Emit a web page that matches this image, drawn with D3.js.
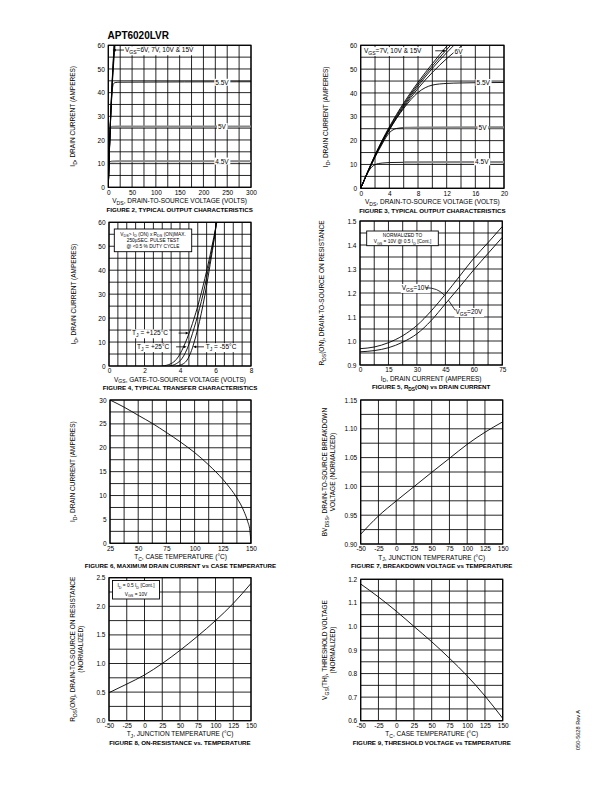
<!DOCTYPE html>
<html><head><meta charset="utf-8">
<script src="https://cdn.jsdelivr.net/npm/d3@7"></script>
<style>body{margin:0;background:#fff}svg{display:block}</style>
</head><body><svg id="c" width="612" height="792"></svg>
<script>
// ---------- DATA ----------
// Figures 2 & 3: output characteristics (VDS volts, ID amps)
const vds15 = [0,1,2,3,4,5,6,7,8,9,10,11,12,13];
const id15  = [0,7.2,14,20.2,25.8,31,35.8,40.3,44.5,48.5,52.3,56,59.6,63];
const vds10 = [0,1,2,3,4,5,6,7,8,9,10,11,12,13];
const id10  = [0,7.1,13.8,19.9,25.4,30.5,35.2,39.6,43.7,47.6,51.3,54.8,58.2,61.5];
const vds7  = [0,1,2,3,4,5,6,7,8,9,10,11,12,13,14];
const id7   = [0,7,13.6,19.6,25,30,34.6,38.9,42.9,46.7,50.3,53.7,56.9,60,63];
const vds6  = [0,1,2,3,4,5,6,7,8,9,10,11,12,13,14,15];
const id6   = [0,6.9,13.4,19.3,24.6,29.5,34,38.1,41.9,45.4,48.6,51.6,54.4,57,59.5,61.9];
const vds55 = [0,1,2,3,4,5,6,7,8,9,10,12,14,16,20,300];
const id55  = [0,6.8,13.3,19.2,24.5,29.3,33.5,37.2,40.2,42.2,43.3,44,44.2,44.3,44.4,44.6];
const vds5  = [0,1,2,3,3.5,4,4.5,5,6,8,20,300];
const id5   = [0,6.7,13,18.6,21.2,23.3,24.5,25.1,25.4,25.5,25.6,25.7];
const vds45 = [0,0.5,1,1.5,2,2.5,3,4,6,20,300];
const id45  = [0,3.5,6.6,8.8,9.9,10.4,10.6,10.8,10.9,11,11];
const outLabels = ["V{GS}=6V, 7V, 10V & 15V","V{GS}=7V, 10V & 15V","6V","5.5V","5V","4.5V"];

// Figure 4: transfer characteristics (VGS volts, ID amps)
const vgsT125 = [3.0,3.5,3.8,4.0,4.2,4.4,4.6,4.8,5.0,5.2,5.4,5.6,5.8,6.0,6.07];
const idT125  = [0,1,2.8,5,8,11.5,15.5,20,25,30.5,36.5,43,50,57.5,60.5];
const vgsT25  = [3.4,3.8,4.1,4.3,4.5,4.7,4.9,5.1,5.3,5.5,5.7,5.9,6.05,6.08];
const idT25   = [0,1,3,5.5,9,13.5,18.5,24,30,37,44.5,52.5,59,60.5];
const vgsTm55 = [3.8,4.2,4.4,4.6,4.8,5.0,5.2,5.4,5.6,5.8,6.0,6.05];
const idTm55  = [0,1,2.5,5.5,10,15.5,22,29.5,38,47,57,60.5];
const tjLabels = ["T{J} = +125°C","T{J} = +25°C","T{J} = -55°C"];

// Figure 5: RDS(ON) vs drain current
const idR = [0,7.5,15,22.5,30,37.5,45,52.5,60,67.5,75];
const rVgs10 = [0.968,0.975,0.993,1.022,1.065,1.125,1.195,1.27,1.345,1.41,1.477];
const rVgs20 = [0.955,0.96,0.972,0.995,1.03,1.085,1.155,1.225,1.297,1.365,1.432];

// Figure 6: max drain current vs case temperature
const tc6 = [25,37.5,50,62.5,75,87.5,100,112.5,125,131.25,137.5,143.75,147,149,150];
const id6max = [30,28.5,26.8,25.1,23.2,21.2,19.0,16.4,13.4,11.6,9.5,6.7,4.6,2.7,0];

// Figure 7: breakdown voltage vs temperature
const tj7 = [-50,-25,0,25,50,75,100,125,150];
const bv7 = [0.917,0.9486,0.9747,0.9995,1.0244,1.0487,1.073,1.094,1.112];

// Figure 8: on-resistance vs temperature
const tj8 = [-50,-25,0,25,50,75,100,125,150];
const r8  = [0.49,0.64,0.80,1.0,1.23,1.48,1.75,2.05,2.40];

// Figure 9: threshold voltage vs temperature
const tc9 = [-50,-25,0,25,50,75,100,125,150];
const vth9 = [1.18,1.125,1.065,1.0,0.935,0.865,0.79,0.705,0.61];

// Tick labels
const ticks2x = [0,50,100,150,200,250,300], ticks2y = [0,10,20,30,40,50,60];
const ticks3x = [0,4,8,12,16,20];
const ticks4x = [0,2,4,6,8];
const ticks5x = [0,15,30,45,60,75], ticks5y = [0.9,1.0,1.1,1.2,1.3,1.4,1.5];
const ticks6x = [25,50,75,100,125,150], ticks6y = [0,5,10,15,20,25,30];
const ticksTx = [-50,-25,0,25,50,75,100,125,150];
const ticks7y = [0.90,0.95,1.00,1.05,1.10,1.15];
const ticks8y = [0,0.5,1.0,1.5,2.0,2.5];
const ticks9y = [0.6,0.7,0.8,0.9,1.0,1.1,1.2];

// ---------- DRAWING ----------
const FONT = '"Liberation Sans", Arial, Helvetica, sans-serif';
const svg = d3.select('#c');
svg.append('rect').attr('width',612).attr('height',792).attr('fill','#fff');

function rich(t, str, fs) {
  const parts = str.split(/(\{[^}]*\})/).filter(s => s.length);
  let shifted = false;
  parts.forEach(p => {
    if (p[0] === '{') {
      t.append('tspan').attr('font-size', fs * 0.78).attr('dy', fs * 0.3).text(p.slice(1, -1));
      shifted = true;
    } else {
      const s = t.append('tspan').text(p);
      if (shifted) { s.attr('dy', -fs * 0.3); shifted = false; }
    }
  });
  return t;
}
function txt(g, x, y, str, fs, opts = {}) {
  const t = g.append('text').attr('x', x).attr('y', y)
    .attr('font-family', FONT).attr('font-size', fs).attr('fill', '#000')
    .attr('text-anchor', opts.anchor || 'start')
    .attr('font-weight', opts.bold ? 'bold' : null);
  if (opts.rotate) t.attr('transform', `rotate(-90,${x},${y})`);
  rich(t, str, fs);
  if (opts.bg) {
    const b = t.node().getBBox();
    g.insert('rect', () => t.node()).attr('x', b.x - 1).attr('y', b.y)
      .attr('width', b.width + 2).attr('height', b.height).attr('fill', '#fff');
  }
  return t;
}
function arrow(g, x1, y1, x2, y2) {
  const a = Math.atan2(y2 - y1, x2 - x1), L = 3.2, W = 1.4;
  g.append('line').attr('x1', x1).attr('y1', y1).attr('x2', x2 - Math.cos(a) * 2).attr('y2', y2 - Math.sin(a) * 2)
    .attr('stroke', '#000').attr('stroke-width', 0.8);
  const bx = x2 - Math.cos(a) * L, by = y2 - Math.sin(a) * L;
  g.append('path').attr('d', `M${x2},${y2}L${bx - Math.sin(a) * W},${by + Math.cos(a) * W}L${bx + Math.sin(a) * W},${by - Math.cos(a) * W}Z`)
    .attr('fill', '#000');
}
function noteBox(g, x0, y0, x1, y1, lines, centers) {
  g.append('rect').attr('x', x0).attr('y', y0).attr('width', x1 - x0).attr('height', y1 - y0)
    .attr('fill', '#fff').attr('stroke', '#000').attr('stroke-width', 0.9);
  lines.forEach((s, i) => txt(g, (x0 + x1) / 2, centers[i] + 1.7, s, 4.8, {anchor: 'middle'}));
}

const plain = d => String(d);
let clipN = 0;
function panel(o) {
  const [X0, X1, Y0, Y1] = o.box;
  const g = svg.append('g');
  const x = d3.scaleLinear().domain(o.xd).range([X0, X1]);
  const y = d3.scaleLinear().domain(o.yd).range([Y1, Y0]);
  const gx = d3.range(o.nx + 1).map(i => o.xd[0] + i * (o.xd[1] - o.xd[0]) / o.nx);
  const gy = d3.range(o.ny + 1).map(i => o.yd[0] + i * (o.yd[1] - o.yd[0]) / o.ny);
  g.append('g').selectAll('line').data(gx).join('line')
    .attr('x1', d => x(d)).attr('x2', d => x(d)).attr('y1', Y0).attr('y2', Y1)
    .attr('stroke', '#000').attr('stroke-width', 0.85);
  g.append('g').selectAll('line').data(gy).join('line')
    .attr('y1', d => y(d)).attr('y2', d => y(d)).attr('x1', X0).attr('x2', X1)
    .attr('stroke', '#000').attr('stroke-width', 0.85);
  g.append('rect').attr('x', X0).attr('y', Y0).attr('width', X1 - X0).attr('height', Y1 - Y0)
    .attr('fill', 'none').attr('stroke', '#000').attr('stroke-width', 1.2);

  const ax = g.append('g').attr('transform', `translate(0,${Y1})`)
    .call(d3.axisBottom(x).tickValues(o.xt).tickSize(0).tickPadding(2.6).tickFormat(o.xf || plain));
  ax.select('.domain').remove();
  ax.selectAll('text').attr('font-size', 6.5).attr('font-family', FONT).attr('fill', '#000');
  const ay = g.append('g').attr('transform', `translate(${X0},0)`)
    .call(d3.axisLeft(y).tickValues(o.yt).tickSize(0).tickPadding(3.5).tickFormat(o.yf || plain));
  ay.select('.domain').remove();
  ay.selectAll('text').attr('font-size', 6.5).attr('font-family', FONT).attr('fill', '#000');

  const cx = (X0 + X1) / 2, cy = (Y0 + Y1) / 2;
  txt(g, cx, Y1 + 15.5, o.xtitle, 6.5, {anchor: 'middle'});
  txt(g, cx, Y1 + 24.2, o.caption, 6.2, {anchor: 'middle', bold: true});
  o.ytitle.forEach((s, i) => txt(g, X0 + o.yoff[i], cy, s, 6.5, {anchor: 'middle', rotate: true}));

  const id = 'clip' + (clipN++);
  svg.append('clipPath').attr('id', id).append('rect')
    .attr('x', X0).attr('y', Y0).attr('width', X1 - X0).attr('height', Y1 - Y0);
  const plot = g.append('g').attr('clip-path', `url(#${id})`);
  const line = d3.line().x(d => x(d[0])).y(d => y(d[1])).curve(d3.curveMonotoneX);
  const curve = (xs, ys, stroke = '#000', w = 0.9) =>
    plot.append('path').datum(d3.zip(xs, ys)).attr('d', line)
      .attr('fill', 'none').attr('stroke', stroke).attr('stroke-width', w);
  return {g, x, y, plot, curve};
}
const f1 = d3.format('.1f'), f2 = d3.format('.2f');

// Page title
txt(svg, 107.5, 39, 'APT6020LVR', 10, {bold: true});

// ---- Figure 2 ----
const p2 = panel({box: [108.3, 251, 45.3, 187.3], xd: [0, 300], yd: [0, 60], nx: 12, ny: 12,
  xt: ticks2x, yt: ticks2y, xtitle: 'V{DS}, DRAIN-TO-SOURCE VOLTAGE (VOLTS)',
  caption: 'FIGURE 2, TYPICAL OUTPUT CHARACTERISTICS', ytitle: ['I{D}, DRAIN CURRENT (AMPERES)'], yoff: [-33]});
// ---- Figure 3 ----
const p3 = panel({box: [360.7, 504, 45.3, 188.3], xd: [0, 20], yd: [0, 60], nx: 10, ny: 12,
  xt: ticks3x, yt: ticks2y, xtitle: 'V{DS}, DRAIN-TO-SOURCE VOLTAGE (VOLTS)',
  caption: 'FIGURE 3, TYPICAL OUTPUT CHARACTERISTICS', ytitle: ['I{D}, DRAIN CURRENT (AMPERES)'], yoff: [-33]});

[p2, p3].forEach(p => {
  p.curve(vds15, id15); p.curve(vds10, id10); p.curve(vds7, id7); p.curve(vds6, id6);
  p.curve(vds55, id55);
  p.curve(vds5, id5); p.curve(vds45, id45);
  const gi5 = vds5.findIndex(v => v >= 6), gi45 = vds45.findIndex(v => v >= 6);
  p.curve(vds5.slice(gi5), id5.slice(gi5), '#8a8a8a', 2.2);
  p.curve(vds45.slice(gi45), id45.slice(gi45), '#8a8a8a', 2.2);
});
// fig 2 labels
txt(p2.g, p2.x(239), p2.y(44.3) + 2.3, outLabels[3], 6.5, {anchor: 'middle', bg: true});
txt(p2.g, p2.x(239), p2.y(25.6) + 2.3, outLabels[4], 6.5, {anchor: 'middle', bg: true});
txt(p2.g, p2.x(239), p2.y(11) + 2.3, outLabels[5], 6.5, {anchor: 'middle', bg: true});
txt(p2.g, p2.x(35), p2.y(58) + 2.3, outLabels[0], 6.5, {bg: true});
arrow(p2.g, p2.x(33), p2.y(58), p2.x(9), p2.y(58));
// fig 3 labels
txt(p3.g, p3.x(17.1), p3.y(44.3) + 2.3, outLabels[3], 6.5, {anchor: 'middle', bg: true});
txt(p3.g, p3.x(17.0), p3.y(25.6) + 2.3, outLabels[4], 6.5, {anchor: 'middle', bg: true});
txt(p3.g, p3.x(16.9), p3.y(11) + 2.3, outLabels[5], 6.5, {anchor: 'middle', bg: true});
txt(p3.g, p3.x(0.45), p3.y(57.7) + 2.3, outLabels[1], 6.5, {bg: true});
arrow(p3.g, p3.x(10.4), p3.y(57.7), p3.x(11.9), p3.y(57.7));
txt(p3.g, p3.x(13.1), p3.y(57.4) + 2.3, outLabels[2], 6.5, {bg: true});

// ---- Figure 4 ----
const p4 = panel({box: [109, 251, 222.3, 366], xd: [0, 8], yd: [0, 60], nx: 16, ny: 12,
  xt: ticks4x, yt: ticks2y, xtitle: 'V{GS}, GATE-TO-SOURCE VOLTAGE (VOLTS)',
  caption: 'FIGURE 4, TYPICAL TRANSFER CHARACTERISTICS', ytitle: ['I{D}, DRAIN CURRENT (AMPERES)'], yoff: [-33]});
p4.curve(vgsT125, idT125); p4.curve(vgsT25, idT25); p4.curve(vgsTm55, idTm55);
noteBox(p4.g, 114.3, 229, 191.7, 251.7,
  ['V{DS}> I{D} (ON) x R{DS} (ON)MAX.', '250µSEC. PULSE TEST', '@ <0.5 % DUTY CYCLE'], [234, 240, 246]);
txt(p4.g, p4.x(1.3), p4.y(13.75) + 2.3, tjLabels[0], 6.5, {bg: true});
arrow(p4.g, p4.x(3.92), p4.y(13.75), p4.x(4.5), p4.y(13.75));
txt(p4.g, p4.x(1.58), p4.y(8.0) + 2.3, tjLabels[1], 6.5, {bg: true});
arrow(p4.g, p4.x(3.78), p4.y(8.0), p4.x(4.38), p4.y(8.0));
txt(p4.g, p4.x(5.45), p4.y(8.0) + 2.3, tjLabels[2], 6.5, {bg: true});
arrow(p4.g, p4.x(5.35), p4.y(8.0), p4.x(4.73), p4.y(8.0));

// ---- Figure 5 ----
const p5 = panel({box: [360, 502.3, 221, 365], xd: [0, 75], yd: [0.9, 1.5], nx: 10, ny: 12,
  xt: ticks5x, yt: ticks5y, yf: f1, xtitle: 'I{D}, DRAIN CURRENT (AMPERES)',
  caption: 'FIGURE 5, R{DS}(ON) vs DRAIN CURRENT', ytitle: ['R{DS}(ON), DRAIN-TO-SOURCE ON RESISTANCE'], yoff: [-36]});
p5.curve(idR, rVgs10); p5.curve(idR, rVgs20);
noteBox(p5.g, 366.7, 231, 438.3, 245.7, ['NORMALIZED TO', 'V{GS} = 10V @ 0.5 I{D} [Cont.]'], [235.2, 241.5]);
txt(p5.g, p5.x(22), p5.y(1.222) + 2.3, 'V{GS}=10V', 6.5, {bg: true});
p5.g.append('path').attr('d', `M${p5.x(34.6)},${p5.y(1.222)}Q${p5.x(41)},${p5.y(1.222)} ${p5.x(44.3)},${p5.y(1.192)}`)
  .attr('fill', 'none').attr('stroke', '#000').attr('stroke-width', 0.8);
txt(p5.g, p5.x(50.3), p5.y(1.122) + 2.3, 'V{GS}=20V', 6.5, {bg: true});
p5.g.append('line').attr('x1', p5.x(50.2)).attr('y1', p5.y(1.128)).attr('x2', p5.x(46.6)).attr('y2', p5.y(1.17))
  .attr('stroke', '#000').attr('stroke-width', 0.8);

// ---- Figure 6 ----
const p6 = panel({box: [110, 251, 400, 543.3], xd: [25, 150], yd: [0, 30], nx: 10, ny: 12,
  xt: ticks6x, yt: ticks6y, xtitle: 'T{C}, CASE TEMPERATURE (°C)',
  caption: 'FIGURE 6, MAXIMUM DRAIN CURRENT vs CASE TEMPERATURE', ytitle: ['I{D}, DRAIN CURRENT  (AMPERES)'], yoff: [-35]});
p6.curve(tc6, id6max);

// ---- Figure 7 ----
const p7 = panel({box: [360.7, 502.7, 400, 544], xd: [-50, 150], yd: [0.9, 1.15], nx: 8, ny: 10,
  xt: ticksTx, yt: ticks7y, yf: f2, xtitle: 'T{J}, JUNCTION TEMPERATURE (°C)',
  caption: 'FIGURE 7, BREAKDOWN VOLTAGE vs TEMPERATURE',
  ytitle: ['BV{DSS}, DRAIN-TO-SOURCE BREAKDOWN', 'VOLTAGE (NORMALIZED)'], yoff: [-34, -26]});
p7.curve(tj7, bv7);

// ---- Figure 8 ----
const p8 = panel({box: [109, 251, 577.7, 720.7], xd: [-50, 150], yd: [0, 2.5], nx: 8, ny: 10,
  xt: ticksTx, yt: ticks8y, yf: f1, xtitle: 'T{J}, JUNCTION TEMPERATURE (°C)',
  caption: 'FIGURE 8, ON-RESISTANCE vs. TEMPERATURE',
  ytitle: ['R{DS}(ON), DRAIN-TO-SOURCE ON RESISTANCE', '(NORMALIZED)'], yoff: [-34, -26]});
p8.curve(tj8, r8);
noteBox(p8.g, 112.5, 580.5, 159.5, 599, ['I{D} = 0.5 I{D} [Cont.]', 'V{GS} = 10V'], [585.5, 594]);

// ---- Figure 9 ----
const p9 = panel({box: [360.7, 502.7, 579.3, 720.7], xd: [-50, 150], yd: [0.6, 1.2], nx: 8, ny: 12,
  xt: ticksTx, yt: ticks9y, yf: f1, xtitle: 'T{C}, CASE TEMPERATURE (°C)',
  caption: 'FIGURE 9, THRESHOLD VOLTAGE vs TEMPERATURE',
  ytitle: ['V{GS}(TH), THRESHOLD VOLTAGE', '(NORMALIZED)'], yoff: [-34, -26]});
p9.curve(tc9, vth9);

// Document number
txt(svg, 580, 730, '050-5628 Rev A', 5.6, {anchor: 'middle', rotate: true});
</script>
</body></html>
